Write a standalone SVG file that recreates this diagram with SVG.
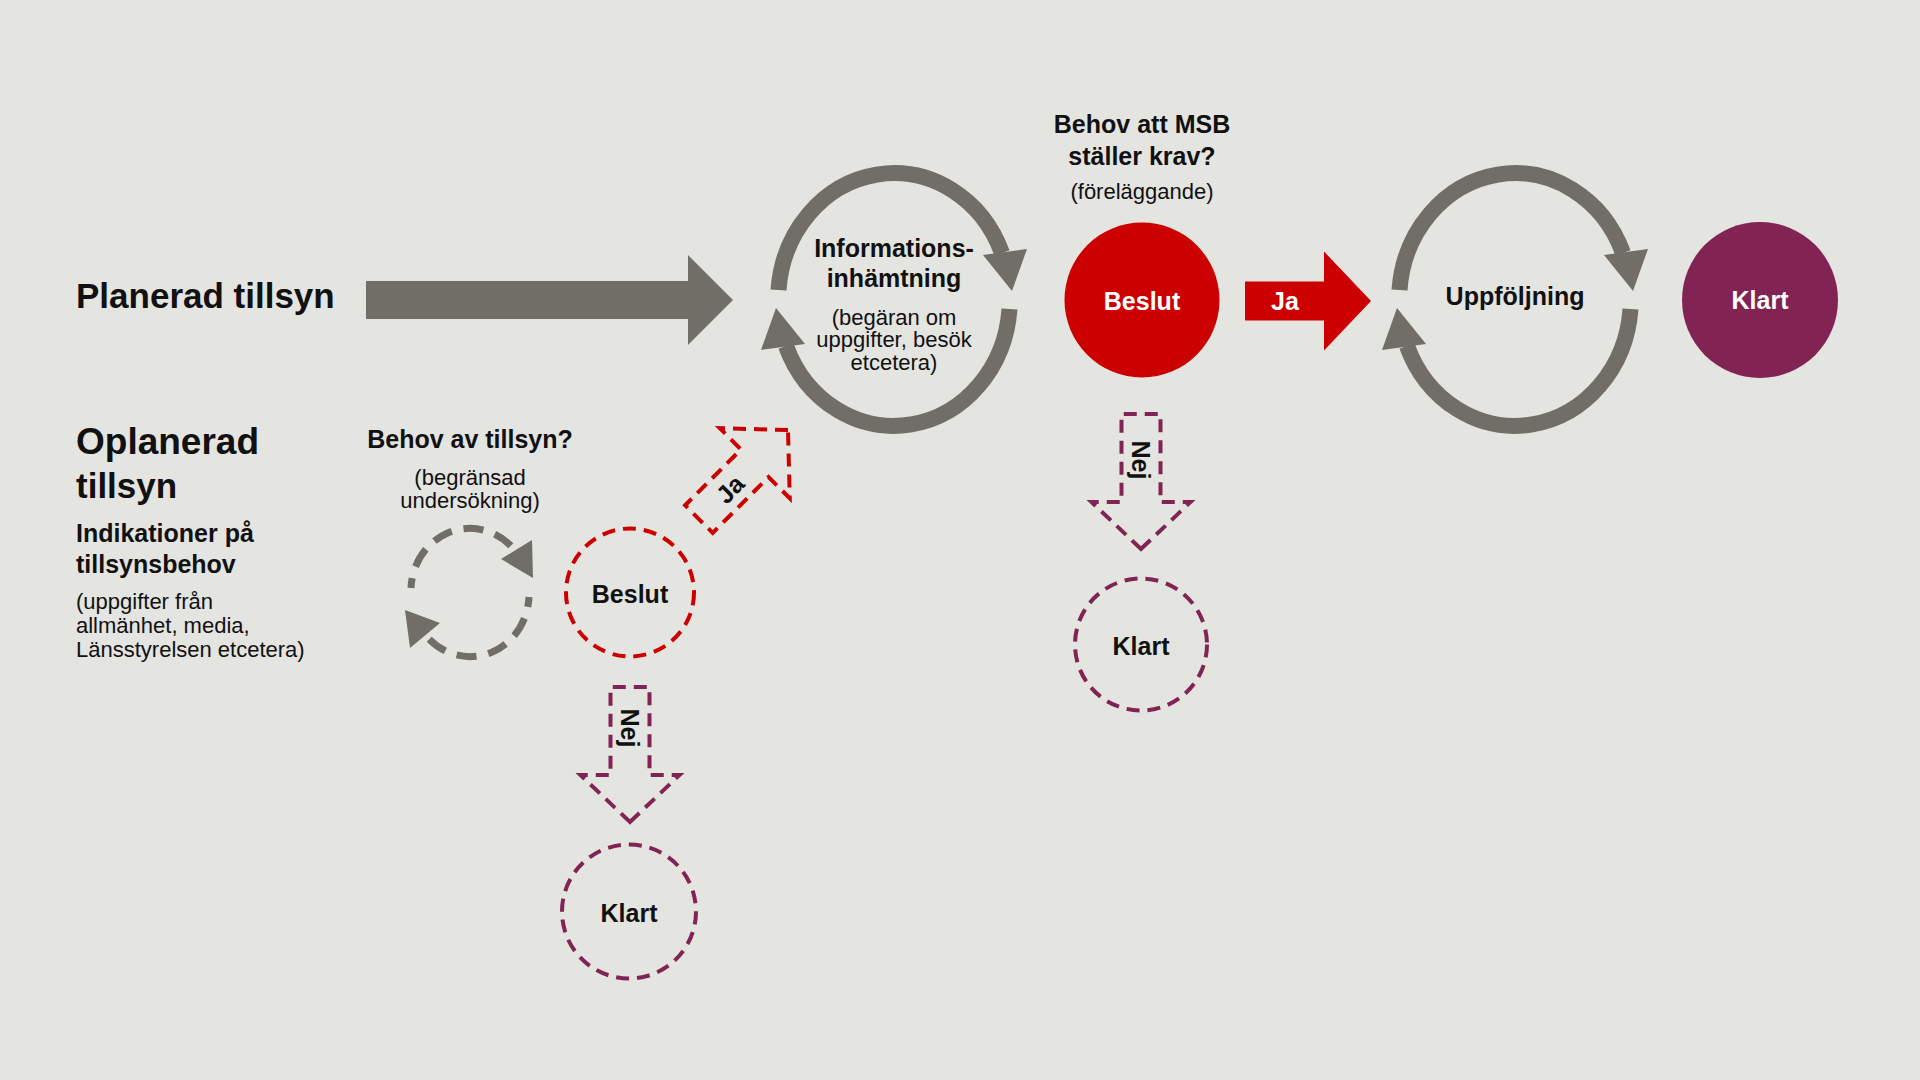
<svg xmlns="http://www.w3.org/2000/svg" width="1920" height="1080" viewBox="0 0 1920 1080">
<style>
text{font-family:"Liberation Sans",Arial,sans-serif;fill:#111}
.b{font-weight:bold}
.h1{font-size:35px;font-weight:bold}
.h2{font-size:25px;font-weight:bold}
.r{font-size:22px}
.c{text-anchor:middle}
.w{fill:#fff}
.ring{fill:none;stroke:#716e67;stroke-width:16}
.gray{fill:#716e67}
.dring{fill:none;stroke:#716e67;stroke-width:7;stroke-dasharray:20 12}
.dred{fill:none;stroke:#cc0000;stroke-width:4;stroke-dasharray:13 8}
.dpur{fill:none;stroke:#822453;stroke-width:4;stroke-dasharray:13 8}
</style>
<defs>
<polygon id="arr" points="0,0 -47,-49.5 -47,-19.5 -126,-19.5 -126,19.5 -47,19.5 -47,49.5"/>
<polygon id="nej" points="0,0 -47,-49.5 -47,-19.5 -135,-19.5 -135,19.5 -47,19.5 -47,49.5"/>
</defs>
<rect width="1920" height="1080" fill="#e4e4e0"/>

<g id="labels">
<text class="h1" x="76" y="308">Planerad tillsyn</text>
<text class="h1" x="76" y="454" style="font-size:37px">Oplanerad</text>
<text class="h1" x="76" y="498">tillsyn</text>
<text class="h2" x="76" y="542">Indikationer på</text>
<text class="h2" x="76" y="573">tillsynsbehov</text>
<text class="r" x="76" y="609">(uppgifter från</text>
<text class="r" x="76" y="633">allmänhet, media,</text>
<text class="r" x="76" y="657">Länsstyrelsen etcetera)</text>
<text class="h2 c" x="1142" y="133">Behov att MSB</text>
<text class="h2 c" x="1142" y="165">ställer krav?</text>
<text class="r c" x="1142" y="199">(föreläggande)</text>
<text class="h2 c" x="470" y="448">Behov av tillsyn?</text>
<text class="r c" x="470" y="485">(begränsad</text>
<text class="r c" x="470" y="508">undersökning)</text>
</g>

<g id="connectors">
<polygon class="gray" points="366,281 688,281 688,255 733,300 688,345 688,319 366,319"/>
<g id="ja-main">
<use href="#arr" transform="translate(1371,301)" fill="#cc0000"/>
<text class="h2 c w" x="1285" y="310">Ja</text>
</g>
<g id="ja-dashed">
<use href="#arr" class="dred" transform="translate(788,430) rotate(-45)"/>
<text class="h2 c" transform="translate(730,489) rotate(-45)" x="0" y="9">Ja</text>
</g>
<g id="nej-1">
<use href="#nej" class="dpur" transform="translate(630,822) rotate(90)"/>
<text class="h2 c" transform="translate(630,728) rotate(90)" x="0" y="9">Nej</text>
</g>
<g id="nej-2">
<use href="#nej" class="dpur" transform="translate(1141,549) rotate(90)"/>
<text class="h2 c" transform="translate(1141,460) rotate(90)" x="0" y="9">Nej</text>
</g>
</g>

<g id="informationsinhamtning">
<path class="ring" d="M 778.5 290 A 116 126.5 0 0 1 1002 253"/>
<polygon class="gray" points="983,255 1027,249 1012,291"/>
<path class="ring" d="M 1009.5 309 A 116 126.5 0 0 1 786 346"/>
<polygon class="gray" points="805,344 761,350 776,308"/>
<text class="h2 c" x="894" y="257">Informations-</text>
<text class="h2 c" x="894" y="287">inhämtning</text>
<text class="r c" x="894" y="325">(begäran om</text>
<text class="r c" x="894" y="347">uppgifter, besök</text>
<text class="r c" x="894" y="370">etcetera)</text>
</g>

<g id="beslut-1">
<circle cx="1142" cy="300" r="77.5" fill="#cc0000"/>
<text class="h2 c w" x="1142" y="310">Beslut</text>
</g>

<g id="uppfoljning">
<path class="ring" d="M 1399.5 290 A 116 126.5 0 0 1 1623 253"/>
<polygon class="gray" points="1604,255 1648,249 1633,291"/>
<path class="ring" d="M 1630.5 309 A 116 126.5 0 0 1 1407 346"/>
<polygon class="gray" points="1426,344 1382,350 1397,308"/>
<text class="h2 c" x="1515" y="305">Uppföljning</text>
</g>

<g id="klart-1">
<circle cx="1760" cy="300" r="78" fill="#822453"/>
<text class="h2 c w" x="1760" y="309">Klart</text>
</g>

<g id="behov-cykel">
<path class="dring" stroke-dashoffset="10" d="M 411 588 A 59 62.5 0 0 1 511 546"/>
<path class="dring" stroke-dashoffset="10" d="M 529 597 A 59 62.5 0 0 1 429 639"/>
<polygon class="gray" points="501,559 532,540 533,578"/>
<polygon class="gray" points="440,623 410,648 405,610"/>
</g>

<g id="beslut-2">
<circle class="dred" cx="630" cy="592.5" r="64"/>
<text class="h2 c" x="630" y="603">Beslut</text>
</g>

<g id="klart-2">
<circle class="dpur" cx="629" cy="911.5" r="67"/>
<text class="h2 c" x="629" y="922">Klart</text>
</g>

<g id="klart-3">
<circle class="dpur" cx="1141" cy="644.5" r="66"/>
<text class="h2 c" x="1141" y="655">Klart</text>
</g>
</svg>
